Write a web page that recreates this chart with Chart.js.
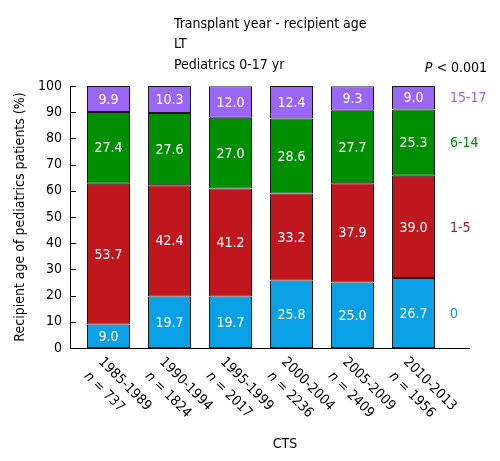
<!DOCTYPE html>
<html>
<head>
<meta charset="utf-8">
<script src="https://cdn.jsdelivr.net/npm/chart.js@4.4.0/dist/chart.umd.min.js"></script>
<style>
  html, body { margin: 0; padding: 0; background: #fff; }
</style>
</head>
<body>
<canvas id="myChart" width="500" height="461"></canvas>
<script>
// categories and values
var periods = ['1985-1989', '1990-1994', '1995-1999', '2000-2004', '2005-2009', '2010-2013'];
var counts = [737, 1824, 2017, 2236, 2409, 1956];
var age0 = [9.0, 19.7, 19.7, 25.8, 25.0, 26.7];
var age1to5 = [53.7, 42.4, 41.2, 33.2, 37.9, 39.0];
var age6to14 = [27.4, 27.6, 27.0, 28.6, 27.7, 25.3];
var age15to17 = [9.9, 10.3, 12.0, 12.4, 9.3, 9.0];
var groupNames = ['0', '1-5', '6-14', '15-17'];
var titleLines = ['Transplant year - recipient age', 'LT', 'Pediatrics 0-17 yr'];
var pText = ' < 0.001';

var FONT = '"DejaVu Sans Condensed", "DejaVu Sans", sans-serif';
var colors = ['#0aa0e6', '#c0161e', '#008f00', '#9966f5'];

function makeSet(label, values, color) {
    return {
        label: label,
        data: values,
        backgroundColor: color,
        borderColor: '#1a1a1a',
        borderWidth: 1,
        borderSkipped: false,
        categoryPercentage: 1,
        barPercentage: 0.705
    };
}

var extras = {
    id: 'extras',
    afterDraw: function(chart) {
        var ctx = chart.ctx;
        var area = chart.chartArea;
        var ys = chart.scales.y;
        var xs = chart.scales.x;
        var axisX = area.left - 8;
        ctx.save();

        // axis lines and inward tick marks
        ctx.strokeStyle = '#000';
        ctx.lineWidth = 1;
        ctx.beginPath();
        ctx.moveTo(axisX + 0.5, ys.getPixelForValue(100));
        ctx.lineTo(axisX + 0.5, area.bottom + 0.5);
        ctx.lineTo(area.right + 26, area.bottom + 0.5);
        ys.ticks.forEach(function(t) {
            var py = Math.round(ys.getPixelForValue(t.value)) + 0.5;
            ctx.moveTo(axisX, py);
            ctx.lineTo(axisX + 6, py);
        });
        ctx.stroke();

        // values inside the segments
        ctx.fillStyle = '#fff';
        ctx.font = '14px ' + FONT;
        ctx.textAlign = 'center';
        ctx.textBaseline = 'middle';
        chart.data.datasets.forEach(function(ds, i) {
            var meta = chart.getDatasetMeta(i);
            meta.data.forEach(function(bar, j) {
                var mid = (bar.y + bar.base) / 2;
                ctx.fillText(ds.data[j].toFixed(1), bar.x, mid + 1);
            });
        });

        // group names beside the last bar
        ctx.textAlign = 'left';
        chart.data.datasets.forEach(function(ds, i) {
            var meta = chart.getDatasetMeta(i);
            var bar = meta.data[meta.data.length - 1];
            ctx.fillStyle = colors[i];
            ctx.fillText(ds.label, area.right + 6, (bar.y + bar.base) / 2 + 1);
        });

        // rotated category labels
        ctx.fillStyle = '#000';
        periods.forEach(function(p, j) {
            var cx = xs.getPixelForValue(j);
            ctx.save();
            ctx.translate(cx - 3, area.bottom + 7);
            ctx.rotate(Math.PI / 4);
            ctx.textAlign = 'left';
            ctx.textBaseline = 'top';
            ctx.font = '14px ' + FONT;
            ctx.fillText(p, 0, 0);
            ctx.font = 'italic 14px ' + FONT;
            ctx.fillText('n', 0, 20);
            var w = ctx.measureText('n').width;
            ctx.font = '14px ' + FONT;
            ctx.fillText(' = ' + counts[j], w, 20);
            ctx.restore();
        });

        // axis caption
        ctx.textAlign = 'center';
        ctx.textBaseline = 'middle';
        ctx.font = '14px ' + FONT;
        ctx.fillText('CTS', 285, 444);

        // header lines
        ctx.textAlign = 'left';
        titleLines.forEach(function(line, k) {
            ctx.fillText(line, 174, 24 + k * 20.5);
        });

        // p value
        ctx.textAlign = 'right';
        ctx.fillText(pText, 487, 68);
        var pw = ctx.measureText(pText).width;
        ctx.font = 'italic 14px ' + FONT;
        ctx.fillText('P', 487 - pw, 68);

        ctx.restore();
    }
};

new Chart(document.getElementById('myChart'), {
    type: 'bar',
    data: {
        labels: periods,
        datasets: [
            makeSet(groupNames[0], age0, colors[0]),
            makeSet(groupNames[1], age1to5, colors[1]),
            makeSet(groupNames[2], age6to14, colors[2]),
            makeSet(groupNames[3], age15to17, colors[3])
        ]
    },
    options: {
        responsive: false,
        animation: false,
        devicePixelRatio: 1,
        layout: { padding: { top: 86, right: 56, left: 0, bottom: 0 } },
        plugins: {
            legend: { display: false },
            tooltip: { enabled: false }
        },
        scales: {
            x: {
                stacked: true,
                grid: { display: false },
                border: { display: false },
                ticks: { display: false },
                afterFit: function(scale) { scale.height = 113; }
            },
            y: {
                stacked: true,
                min: 0,
                max: 100,
                ticks: {
                    stepSize: 10,
                    color: '#000',
                    padding: 16,
                    font: { family: FONT, size: 14 }
                },
                grid: { display: false, drawTicks: false },
                border: { display: false },
                title: {
                    display: true,
                    text: 'Recipient age of pediatrics patients (%)',
                    color: '#000',
                    font: { family: FONT, size: 14 },
                    padding: { top: 12, bottom: 0 }
                },
                afterFit: function(scale) { scale.width = 78; }
            }
        }
    },
    plugins: [extras]
});
</script>
</body>
</html>
